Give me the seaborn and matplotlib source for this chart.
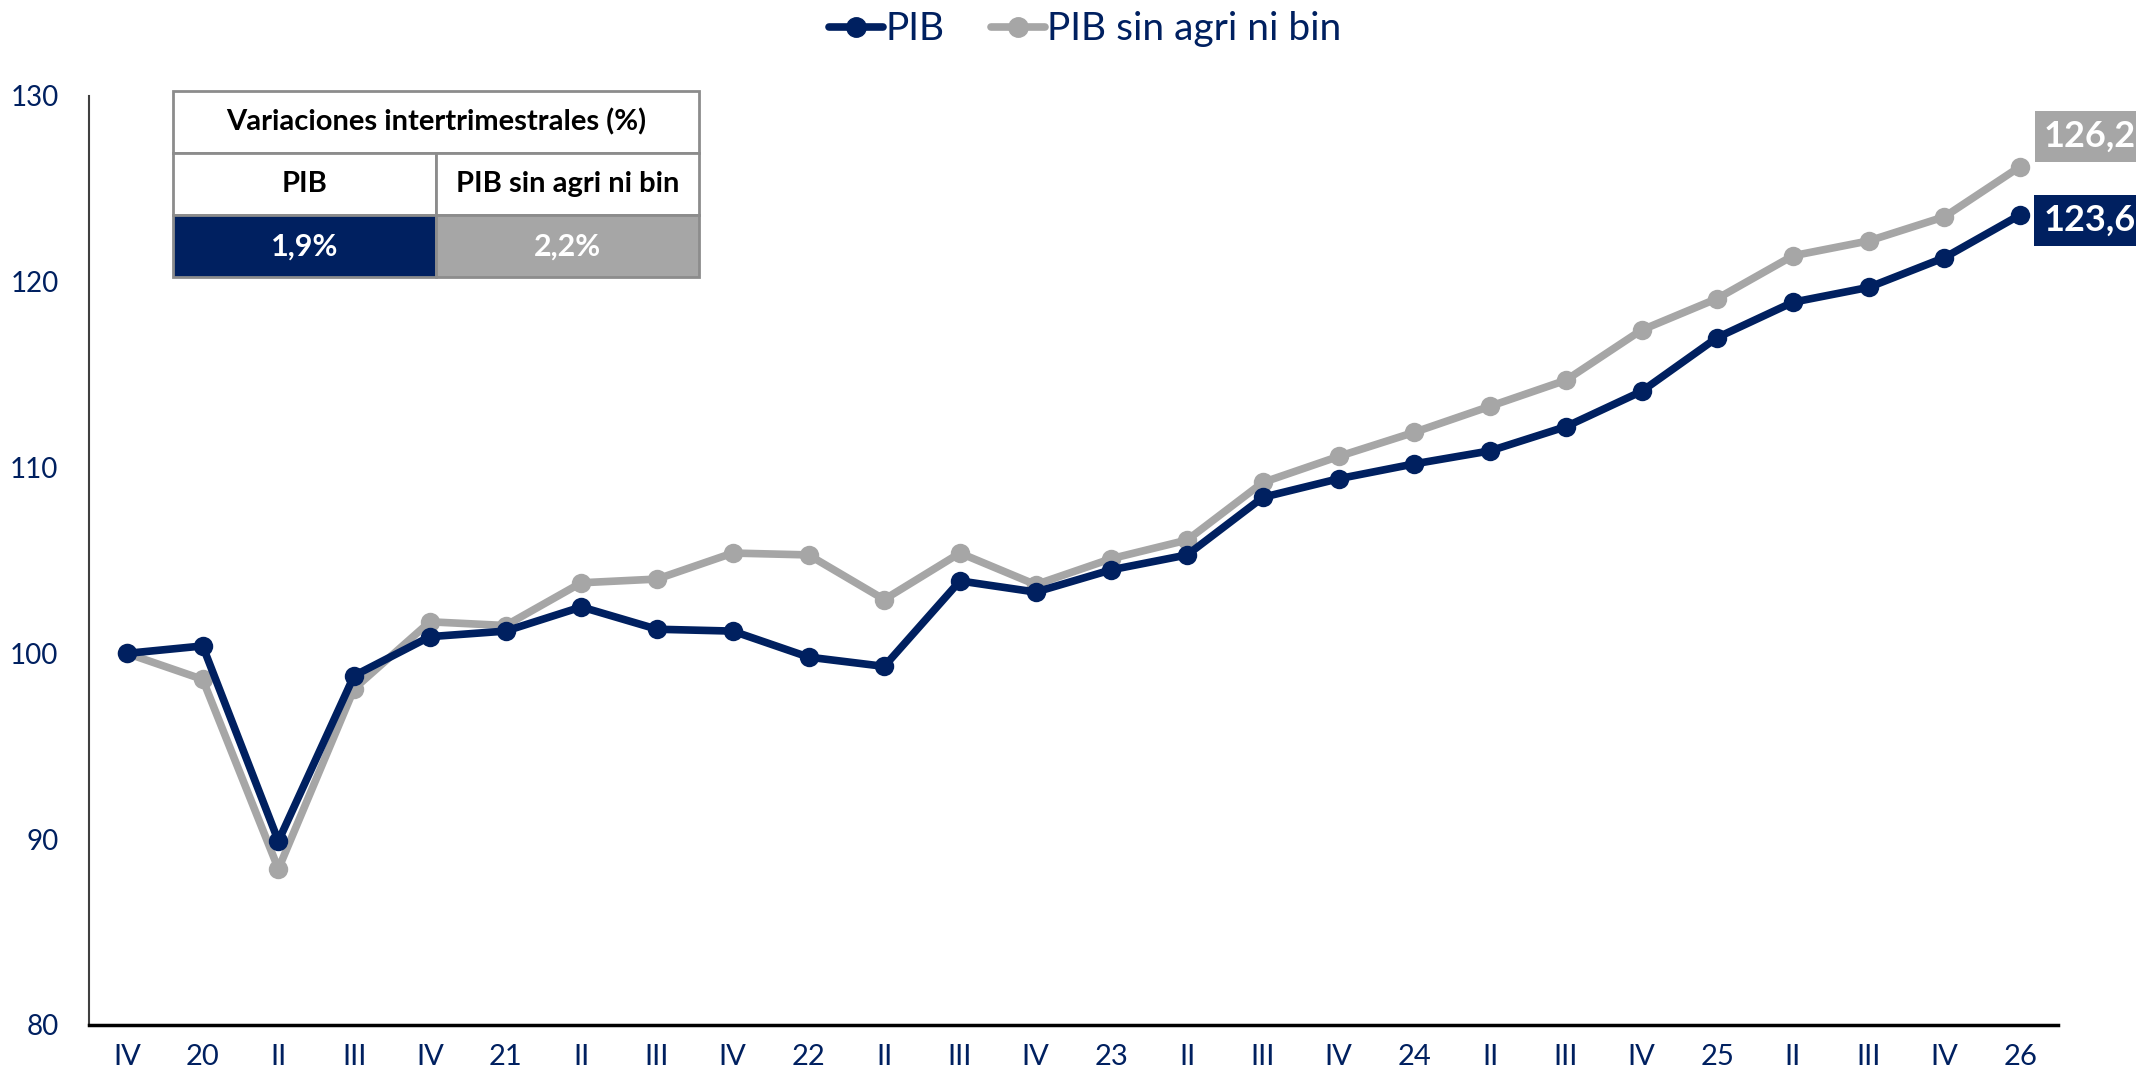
import numpy as np
import pandas as pd
import matplotlib
matplotlib.use("Agg")
import matplotlib.pyplot as plt
import seaborn as sns
from matplotlib.patches import Rectangle
from matplotlib.lines import Line2D

# datos
etiquetas = ['IV', '20', 'II', 'III', 'IV', '21', 'II', 'III', 'IV', '22', 'II', 'III', 'IV',
             '23', 'II', 'III', 'IV', '24', 'II', 'III', 'IV', '25', 'II', 'III', 'IV', '26']
pib = [100.0, 100.4, 89.9, 98.8, 100.9, 101.2, 102.5, 101.3, 101.2, 99.8, 99.3, 103.9, 103.3,
       104.5, 105.3, 108.4, 109.4, 110.2, 110.9, 112.2, 114.1, 117.0, 118.9, 119.7, 121.3, 123.6]
pib_sin = [100.0, 98.6, 88.4, 98.1, 101.7, 101.5, 103.8, 104.0, 105.4, 105.3, 102.9, 105.4, 103.7,
           105.1, 106.1, 109.2, 110.6, 111.9, 113.3, 114.7, 117.4, 119.1, 121.4, 122.2, 123.5, 126.2]
var_pib = '1,9%'
var_sin = '2,2%'

AZUL = '#002060'
GRIS = '#A6A6A6'

sns.set_theme(style="white")
plt.rcParams['font.family'] = ['Lato', 'DejaVu Sans']

df = pd.DataFrame({
    'pos': list(range(len(etiquetas))) * 2,
    'valor': pib + pib_sin,
    'serie': ['PIB'] * len(pib) + ['PIB sin agri ni bin'] * len(pib_sin),
})

fig = plt.figure(figsize=(21.36, 10.76), dpi=100)
ax = fig.add_axes([0.0417, 0.0474, 0.9218, 0.8634])

sns.lineplot(data=df, x='pos', y='valor', hue='serie', palette=[AZUL, GRIS],
             hue_order=['PIB', 'PIB sin agri ni bin'], marker='o', markersize=14,
             markeredgewidth=0, linewidth=5.5, ax=ax, legend=False)
# azul por encima del gris
for ln in ax.lines:
    if matplotlib.colors.to_hex(ln.get_color()).upper() == GRIS:
        ln.set_zorder(2)
    else:
        ln.set_zorder(3)

ax.set_xlim(-0.5, len(etiquetas) - 0.5)
ax.set_ylim(80, 130)
ax.set_xticks(range(len(etiquetas)))
ax.set_xticklabels(etiquetas)
ax.set_yticks([80, 90, 100, 110, 120, 130])
ax.tick_params(axis='x', labelsize=21, colors=AZUL, pad=14, length=0)
ax.tick_params(axis='y', labelsize=20, colors=AZUL, pad=22, length=0)
ax.set_xlabel('')
ax.set_ylabel('')
for s in ['top', 'right']:
    ax.spines[s].set_visible(False)
ax.spines['left'].set_color('#404040')
ax.spines['left'].set_linewidth(1.5)
ax.spines['bottom'].set_color('black')
ax.spines['bottom'].set_linewidth(2.5)

# etiquetas finales
ult = len(etiquetas) - 1
ax.annotate(f"{pib_sin[-1]:.1f}".replace('.', ','), (ult, pib_sin[-1]), xytext=(50, 22),
            textcoords='offset points', ha='center', va='center', fontsize=26, weight='bold',
            color='white', annotation_clip=False,
            bbox=dict(boxstyle='square,pad=0.25', fc=GRIS, ec='none'))
ax.annotate(f"{pib[-1]:.1f}".replace('.', ','), (ult, pib[-1]), xytext=(50, -4),
            textcoords='offset points', ha='center', va='center', fontsize=26, weight='bold',
            color='white', annotation_clip=False,
            bbox=dict(boxstyle='square,pad=0.25', fc=AZUL, ec='none'))

# tabla de variaciones
x0, xm, x1 = 0.0427, 0.1762, 0.3098
rh = 0.0668
ytop = 1.0054
borde = '#8C8C8C'
celdas = [
    (x0, ytop - rh, x1 - x0, 'white'),
    (x0, ytop - 2 * rh, xm - x0, 'white'),
    (xm, ytop - 2 * rh, x1 - xm, 'white'),
    (x0, ytop - 3 * rh, xm - x0, AZUL),
    (xm, ytop - 3 * rh, x1 - xm, GRIS),
]
for cx, cy, cw, col in celdas:
    ax.add_patch(Rectangle((cx, cy), cw, rh, transform=ax.transAxes, fc=col, ec=borde,
                           lw=2, clip_on=False, zorder=5))
ax.text((x0 + x1) / 2, ytop - rh / 2, 'Variaciones intertrimestrales (%)', transform=ax.transAxes,
        ha='center', va='center', fontsize=21, weight='bold', color='black', zorder=6)
ax.text((x0 + xm) / 2, ytop - 1.5 * rh, 'PIB', transform=ax.transAxes,
        ha='center', va='center', fontsize=21, weight='bold', color='black', zorder=6)
ax.text((xm + x1) / 2, ytop - 1.5 * rh, 'PIB sin agri ni bin', transform=ax.transAxes,
        ha='center', va='center', fontsize=21, weight='bold', color='black', zorder=6)
ax.text((x0 + xm) / 2, ytop - 2.5 * rh, var_pib, transform=ax.transAxes,
        ha='center', va='center', fontsize=22, weight='bold', color='white', zorder=6)
ax.text((xm + x1) / 2, ytop - 2.5 * rh, var_sin, transform=ax.transAxes,
        ha='center', va='center', fontsize=22, weight='bold', color='white', zorder=6)

# leyenda
handles = [Line2D([], [], color=AZUL, lw=5.5, marker='o', markersize=14),
           Line2D([], [], color=GRIS, lw=5.5, marker='o', markersize=14)]
leg = fig.legend(handles, ['PIB', 'PIB sin agri ni bin'], loc='upper center',
                 bbox_to_anchor=(0.508, 1.022), ncol=2, frameon=False, fontsize=28,
                 handlelength=1.4, handletextpad=0.05, columnspacing=1.2)
for t in leg.get_texts():
    t.set_color(AZUL)

fig.savefig('out.png', dpi=100)
